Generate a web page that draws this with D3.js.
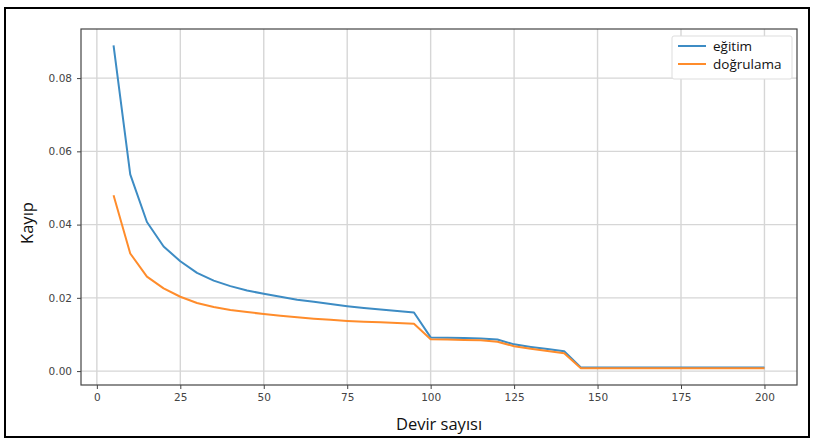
<!DOCTYPE html>
<html><head><meta charset="utf-8">
<script src="https://cdn.jsdelivr.net/npm/d3@7"></script>
<style>body{margin:0;background:#fff}svg{display:block}</style>
</head><body>
<script>
const epochs = [5,10,15,20,25,30,35,40,45,50,55,60,65,70,75,80,85,90,95,100,105,110,115,120,125,130,135,140,145,150,155,160,165,170,175,180,185,190,195,200];
const egitim = [0.0889,0.0537,0.0407,0.0340,0.0300,0.0268,0.0247,0.0232,0.0220,0.0211,0.0203,0.0195,0.0189,0.0183,0.0177,0.0172,0.0168,0.0164,0.0160,
  0.0092,0.0091,0.0090,0.0089,0.0086,0.0073,0.0066,0.0060,0.0054,0.0010,0.0010,0.0010,0.0010,0.0010,0.0010,0.0010,0.0010,0.0010,0.0010,0.0010,0.0010];
const dogrulama = [0.0480,0.0321,0.0258,0.0226,0.0203,0.0186,0.0175,0.0167,0.0161,0.0156,0.0151,0.0147,0.0143,0.0140,0.0137,0.0135,0.0133,0.0131,0.0129,
  0.0087,0.0086,0.0085,0.0084,0.0080,0.0068,0.0061,0.0055,0.0049,0.0008,0.0008,0.0008,0.0008,0.0008,0.0008,0.0008,0.0008,0.0008,0.0008,0.0008,0.0008];
const seriesNames = ["eğitim","doğrulama"];
const xTicks = [0,25,50,75,100,125,150,175,200];
const yTicks = [0.00,0.02,0.04,0.06,0.08];
const xLabel = "Devir sayısı";
const yLabel = "Kayıp";

const W=813,H=440;
const svg=d3.select("body").append("svg").attr("width",W).attr("height",H);
svg.append("rect").attr("x",5).attr("y",8).attr("width",804).attr("height",429)
  .attr("fill","#fff").attr("stroke","#000").attr("stroke-width",2);

const L=81,R=797,T=29,B=385;
const x=d3.scaleLinear().domain([-4.75,209.75]).range([L,R]);
const y=d3.scaleLinear().domain([-0.0038,0.0934]).range([B,T]);

const g=svg.append("g");
// grid
g.selectAll(".gx").data(xTicks).join("line").attr("x1",d=>x(d)).attr("x2",d=>x(d))
  .attr("y1",T).attr("y2",B).attr("stroke","#d6d6d6").attr("stroke-width",1.4);
g.selectAll(".gy").data(yTicks).join("line").attr("y1",d=>y(d)).attr("y2",d=>y(d))
  .attr("x1",L).attr("x2",R).attr("stroke","#d6d6d6").attr("stroke-width",1.4);

// axes
const xa=svg.append("g").attr("transform",`translate(0,${B})`)
  .call(d3.axisBottom(x).tickValues(xTicks).tickSize(4).tickPadding(5).tickFormat(d3.format("d")));
const ya=svg.append("g").attr("transform",`translate(${L},0)`)
  .call(d3.axisLeft(y).tickValues(yTicks).tickSize(4).tickPadding(5).tickFormat(d3.format(".2f")));
[xa,ya].forEach(a=>{a.select(".domain").remove();
  a.selectAll("text").attr("font-family","DejaVu Sans").attr("font-size",10.5).attr("fill","#444");
  a.selectAll("line").attr("stroke","#444");});

// lines
const colors=["#3d8cc4","#ff8c2b"];
[egitim,dogrulama].forEach((vals,i)=>{
  svg.append("path").datum(epochs.map((e,j)=>[e,vals[j]]))
    .attr("fill","none").attr("stroke",colors[i]).attr("stroke-width",2).attr("stroke-linejoin","round")
    .attr("d",d3.line().x(d=>x(d[0])).y(d=>y(d[1])));
});

// frame
svg.append("rect").attr("x",L).attr("y",T).attr("width",R-L).attr("height",B-T)
  .attr("fill","none").attr("stroke","#444").attr("stroke-width",1.2);

// labels
svg.append("text").attr("x",(L+R)/2).attr("y",430).attr("text-anchor","middle")
  .attr("font-family","Open Sans").attr("font-size",16.5).attr("fill","#111").text(xLabel);
svg.append("text").attr("transform",`translate(33,223) rotate(-90)`).attr("text-anchor","middle")
  .attr("font-family","Open Sans").attr("font-size",16.5).attr("fill","#111").text(yLabel);

// legend
const lg=svg.append("g");
lg.append("rect").attr("x",672).attr("y",36).attr("width",120).attr("height",43).attr("rx",2)
  .attr("fill","#fff").attr("stroke","#ddd").attr("stroke-width",1);
seriesNames.forEach((n,i)=>{
  const yy=46+i*18;
  lg.append("line").attr("x1",678).attr("x2",706).attr("y1",yy).attr("y2",yy)
    .attr("stroke",colors[i]).attr("stroke-width",2);
  lg.append("text").attr("x",713).attr("y",yy+4.5).attr("font-family","Open Sans").attr("font-size",13.5)
    .attr("fill","#111").text(n);
});
</script>
</body></html>
